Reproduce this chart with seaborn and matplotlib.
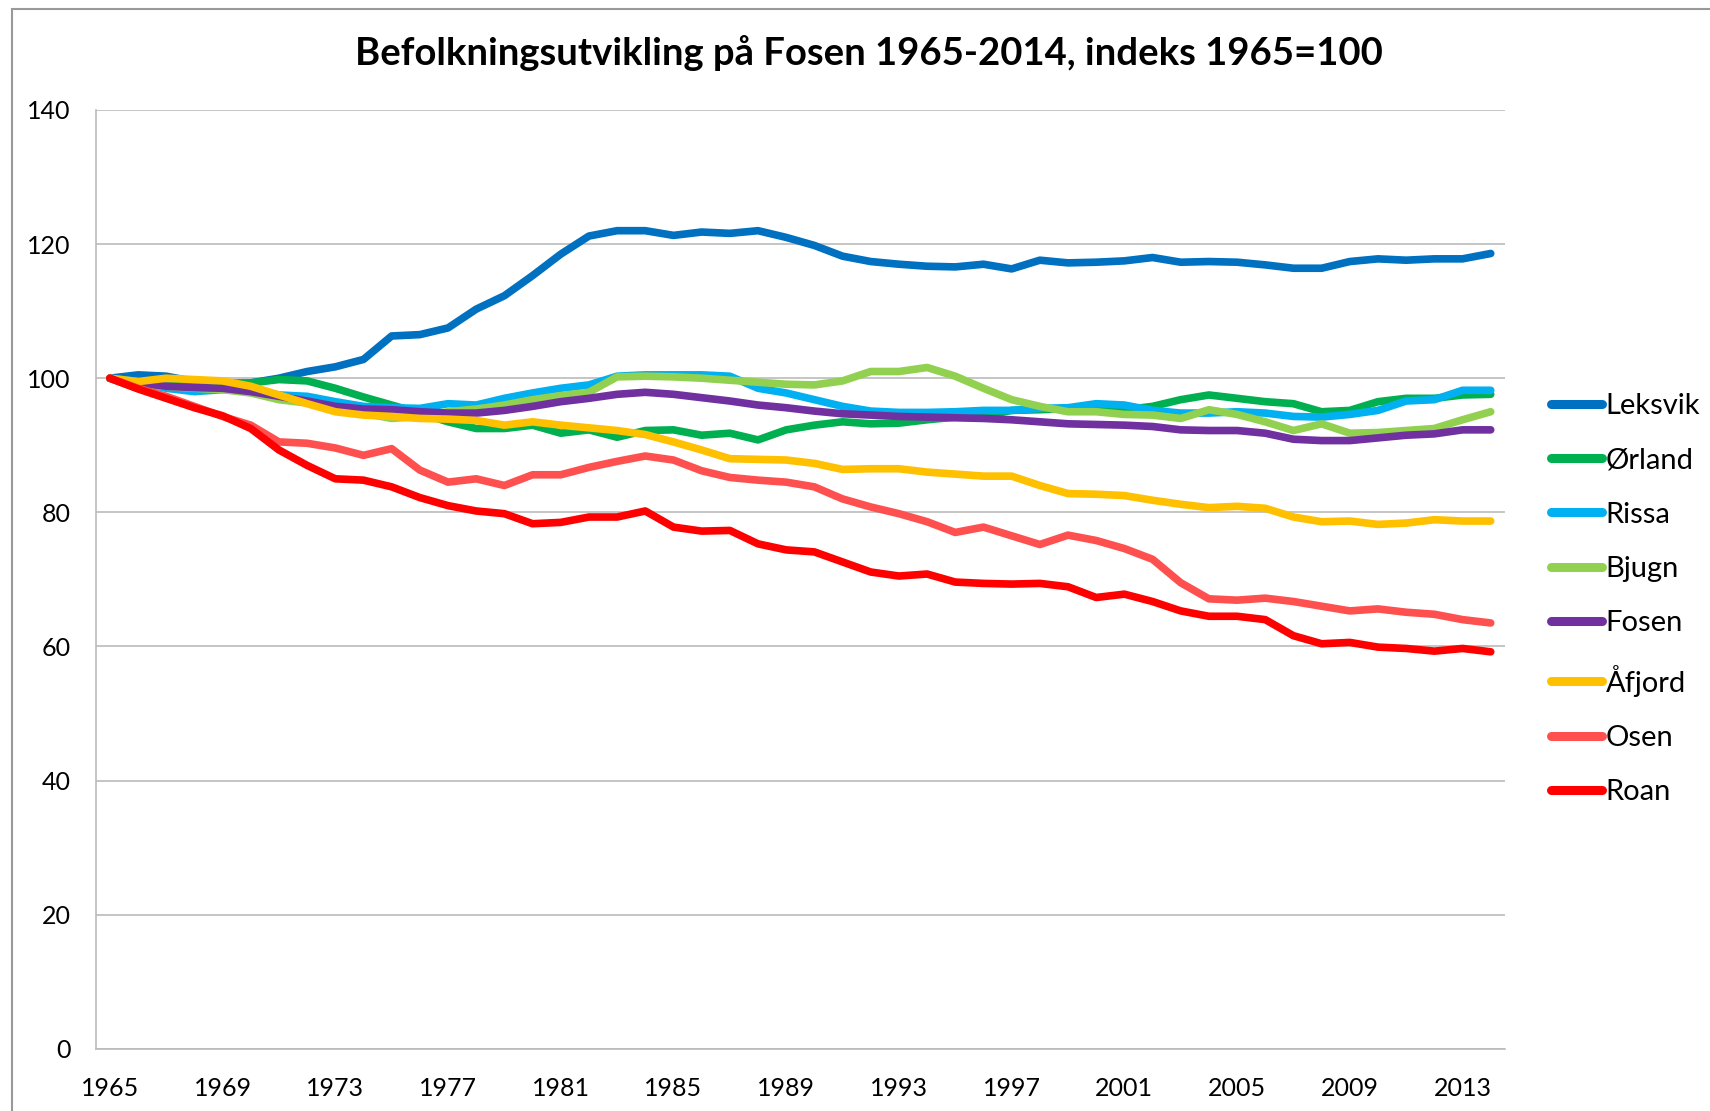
import numpy as np
import pandas as pd
import matplotlib
matplotlib.use("Agg")
import matplotlib.pyplot as plt
import seaborn as sns
from matplotlib.patches import Rectangle

years = list(range(1965, 2015))

leksvik = [100, 100.5, 100.3, 99.5, 99, 99.3, 100, 101, 101.7, 102.8, 106.3, 106.5, 107.5, 110.3, 112.3,
           115.3, 118.5, 121.2, 122, 122, 121.3, 121.8, 121.6, 122, 121, 119.8, 118.2, 117.4, 117.0, 116.7,
           116.6, 117, 116.3, 117.6, 117.2, 117.3, 117.5, 118.0, 117.3, 117.4, 117.3, 116.9, 116.4, 116.4,
           117.4, 117.8, 117.6, 117.8, 117.8, 118.6]
orland = [100, 98.5, 99, 99.2, 99.3, 99.3, 99.8, 99.6, 98.5, 97.2, 96, 94.8, 93.5, 92.5, 92.5, 93, 91.8,
          92.3, 91.2, 92.2, 92.3, 91.5, 91.8, 90.8, 92.3, 93, 93.5, 93.2, 93.3, 93.8, 94.2, 94.4, 95.2, 95.3,
          95.5, 95.2, 95.3, 95.8, 96.8, 97.5, 97, 96.5, 96.2, 95, 95.2, 96.5, 97, 97, 97.5, 97.6]
rissa = [100, 99.5, 98.5, 98, 98.3, 98.3, 97.5, 97.3, 96.5, 95.8, 95.6, 95.5, 96.2, 96, 97, 97.8, 98.5, 99,
         100.3, 100.5, 100.5, 100.5, 100.3, 98.5, 97.8, 96.8, 95.8, 95.1, 94.9, 94.9, 95, 95.2, 95.2, 95.5,
         95.6, 96.2, 96, 95.2, 94.8, 94.8, 95.0, 94.8, 94.3, 94.2, 94.6, 95.2, 96.6, 96.8, 98.2, 98.2]
bjugn = [100, 99, 98.8, 98.5, 98.3, 97.8, 96.8, 96.3, 95.5, 94.8, 94, 94.3, 95, 95.4, 96, 96.8, 97.4, 97.9,
         100.2, 100.3, 100.2, 100, 99.7, 99.4, 99.1, 99, 99.6, 101, 101, 101.6, 100.3, 98.5, 96.8, 95.8, 95,
         95, 94.6, 94.5, 94, 95.3, 94.6, 93.5, 92.2, 93.2, 91.8, 91.9, 92.2, 92.5, 93.8, 95]
fosen = [100, 99.3, 98.8, 98.6, 98.5, 98, 97.3, 96.6, 95.8, 95.4, 95.3, 95, 94.8, 94.8, 95.2, 95.8, 96.5, 97,
         97.6, 97.9, 97.6, 97.1, 96.6, 96, 95.6, 95.1, 94.7, 94.5, 94.3, 94.2, 94.1, 94, 93.8, 93.5, 93.2,
         93.1, 93, 92.8, 92.3, 92.2, 92.2, 91.8, 90.9, 90.7, 90.7, 91.1, 91.5, 91.7, 92.3, 92.3]
afjord = [100, 99.5, 100, 99.8, 99.6, 98.8, 97.5, 96.2, 95, 94.5, 94.3, 94, 93.9, 93.7, 93, 93.5, 93, 92.6,
          92.2, 91.6, 90.5, 89.3, 88, 87.9, 87.8, 87.3, 86.4, 86.5, 86.5, 86, 85.7, 85.4, 85.4, 84, 82.8,
          82.7, 82.5, 81.8, 81.2, 80.7, 80.9, 80.6, 79.3, 78.6, 78.7, 78.2, 78.4, 78.9, 78.7, 78.7]
osen = [100, 98.5, 97.3, 95.8, 94.3, 93, 90.5, 90.3, 89.6, 88.5, 89.5, 86.3, 84.5, 85, 84, 85.6, 85.6, 86.7,
        87.6, 88.4, 87.8, 86.2, 85.2, 84.8, 84.5, 83.8, 82, 80.8, 79.8, 78.6, 77, 77.8, 76.5, 75.2, 76.6,
        75.8, 74.6, 73.0, 69.5, 67.1, 66.9, 67.2, 66.7, 66.0, 65.3, 65.6, 65.1, 64.8, 64.0, 63.5]
roan = [100, 98.4, 97, 95.6, 94.4, 92.5, 89.3, 87, 85, 84.8, 83.8, 82.2, 81, 80.2, 79.8, 78.3, 78.5, 79.3,
        79.3, 80.2, 77.8, 77.2, 77.3, 75.3, 74.4, 74.1, 72.6, 71.1, 70.5, 70.8, 69.6, 69.4, 69.3, 69.4,
        68.9, 67.3, 67.8, 66.7, 65.3, 64.5, 64.5, 64, 61.6, 60.4, 60.6, 59.9, 59.7, 59.3, 59.7, 59.2]

series_names = ["Leksvik", "Ørland", "Rissa", "Bjugn", "Fosen", "Åfjord", "Osen", "Roan"]
series_values = [leksvik, orland, rissa, bjugn, fosen, afjord, osen, roan]
colors = ["#0070C0", "#00B050", "#00B0F0", "#92D050", "#7030A0", "#FFC000", "#FF5050", "#FF0000"]
xtick_years = list(range(1965, 2015, 4))
ytick_values = list(range(0, 141, 20))

rows = []
for name, vals in zip(series_names, series_values):
    for y, v in zip(years, vals):
        rows.append({"year": y, "value": v, "kommune": name})
df = pd.DataFrame(rows)

sns.set_theme(style="white")
plt.rcParams['font.family'] = ['Lato', 'DejaVu Sans']
plt.rcParams['text.color'] = 'black'
plt.rcParams['xtick.color'] = 'black'
plt.rcParams['ytick.color'] = 'black'

fig = plt.figure(figsize=(17.10, 11.11), dpi=100)
ax = fig.add_axes([0.056, 0.056, 0.824, 0.845])

sns.lineplot(data=df, x="year", y="value", hue="kommune", hue_order=series_names,
             palette=colors, linewidth=5.5, ax=ax, legend=True)

ax.set_xlim(1964.5, 2014.5)
ax.set_ylim(0, 140)
ax.set_xticks(xtick_years)
ax.set_xticklabels([str(y) for y in xtick_years], fontsize=18)
ax.set_yticks(ytick_values)
ax.set_yticklabels([str(v) for v in ytick_values], fontsize=18)
ax.tick_params(axis='x', length=0, pad=20)
ax.tick_params(axis='y', length=0, pad=18)
ax.set_xlabel("")
ax.set_ylabel("")
ax.yaxis.grid(True, color="#BBBBBB", linewidth=1.2)
ax.xaxis.grid(False)
for s in ["top", "right"]:
    ax.spines[s].set_visible(False)
for s in ["left", "bottom"]:
    ax.spines[s].set_color("#BBBBBB")
    ax.spines[s].set_linewidth(1.2)

handles, labels = ax.get_legend_handles_labels()
leg = ax.legend(handles, labels, loc="center left", bbox_to_anchor=(1.033, 0.479), frameon=False,
                fontsize=21, handlelength=1.75, handletextpad=0.12, labelspacing=0.97,
                borderaxespad=0, borderpad=0)
for line in leg.get_lines():
    line.set_linewidth(6.5)
    line.set_solid_capstyle("round")

fig.text(0.508, 0.952, "Befolkningsutvikling på Fosen 1965-2014, indeks 1965=100",
         ha="center", va="center", fontsize=27.5, fontweight="bold")

fig.patches.append(Rectangle((0.007, -0.01), 1.2, 1.002, transform=fig.transFigure,
                             fill=False, edgecolor="#999999", linewidth=1.5))

fig.savefig("out.png", dpi=100)
